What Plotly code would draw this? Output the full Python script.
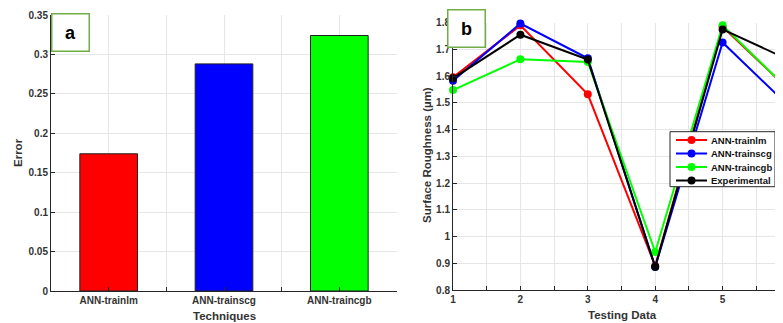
import plotly.graph_objects as go

# ---------------- data ----------------
techniques = ["ANN-trainlm", "ANN-trainscg", "ANN-traincgb"]
errors = [0.174, 0.288, 0.324]
bar_colors = ["#ff0000", "#0000ff", "#00ff00"]

testing_data = [1, 2, 3, 4, 5, 6]
ann_trainlm = [1.596, 1.790, 1.532, 0.890, 1.785, 1.545]
ann_trainscg = [1.583, 1.797, 1.667, 0.886, 1.726, 1.483]
ann_traincgb = [1.548, 1.663, 1.653, 0.942, 1.790, 1.545]
experimental = [1.592, 1.755, 1.662, 0.887, 1.775, 1.659]

series_names = ["ANN-trainlm", "ANN-trainscg", "ANN-traincgb", "Experimental"]
series_values = [ann_trainlm, ann_trainscg, ann_traincgb, experimental]
series_colors = ["#ff0000", "#0000ff", "#00ff00", "#000000"]

# The page body adds an 8px offset, so the figure is sized to fill the
# remaining part of the 783x323 window.
OFF = 8
W, H = 783 - OFF, 323 - OFF
FONT = "Liberation Sans, Arial, sans-serif"
AX = "#262626"
GRID = "#e6e6e6"


def px_x(p):
    """window pixel x -> paper fraction"""
    return (p - OFF) / W


def px_y(p):
    """window pixel y (from top) -> paper fraction"""
    return 1 - (p - OFF) / H


fig = go.Figure()

# ---------------- panel a: bars ----------------
xpos = list(range(1, len(techniques) + 1))
fig.add_trace(go.Bar(
    x=xpos, y=errors, width=0.5,
    marker=dict(color=bar_colors, line=dict(color="#222222", width=1)),
    xaxis="x", yaxis="y", showlegend=False,
))

# ---------------- panel b: lines ----------------
for name, vals, col in zip(series_names, series_values, series_colors):
    fig.add_trace(go.Scatter(
        x=testing_data, y=vals, name=name, mode="lines+markers",
        line=dict(color=col, width=2),
        marker=dict(color=col, size=8, symbol="circle"),
        cliponaxis=False, xaxis="x2", yaxis="y2", showlegend=False,
    ))

tickfont = dict(family=FONT, size=10, color="#333333", weight="bold")

common_axis = dict(
    showline=True, linecolor=AX, linewidth=1, ticks="inside", ticklen=4,
    tickcolor=AX, tickfont=tickfont, showgrid=True, gridcolor=GRID,
    gridwidth=1, zeroline=False, mirror=False, automargin=False,
)

fig.update_layout(
    template="none",
    width=W, height=H,
    margin=dict(l=0, r=0, t=0, b=0, pad=0, autoexpand=False),
    paper_bgcolor="white", plot_bgcolor="white",
    showlegend=False,
    xaxis=dict(
        domain=[px_x(51), px_x(397)], range=[0.5, len(techniques) + 0.5],
        tickmode="array", tickvals=xpos, ticktext=techniques,
        minor=dict(tickmode="array", tickvals=[i + 0.5 for i in xpos[:-1]],
                   showgrid=True, gridcolor=GRID, ticks="inside", ticklen=4,
                   tickcolor=AX),
        anchor="y", **common_axis,
    ),
    yaxis=dict(
        domain=[px_y(291), px_y(15)], range=[0, 0.35], dtick=0.05,
        anchor="x", **common_axis,
    ),
    xaxis2=dict(
        domain=[px_x(453), 1], range=[1, 1 + (783 - 453) / 67.4],
        dtick=1, tick0=1,
        minor=dict(dtick=0.5, showgrid=True, gridcolor=GRID, ticks="inside",
                   ticklen=4, tickcolor=AX),
        anchor="y2", **common_axis,
    ),
    yaxis2=dict(
        domain=[px_y(290), px_y(22.7)], range=[0.8, 1.8], dtick=0.1,
        anchor="x2", **common_axis,
    ),
)

# ---------------- axis titles ----------------
title_font = dict(family=FONT, size=11.5, color="#333333", weight="bold")
annos = [
    dict(text="Error", x=px_x(18), y=px_y(153), textangle=-90),
    dict(text="Techniques", x=px_x(224.5), y=px_y(315.5)),
    dict(text="Surface Roughness (µm)", x=px_x(427), y=px_y(155), textangle=-90),
    dict(text="Testing Data", x=px_x(622), y=px_y(315)),
]
for a in annos:
    fig.add_annotation(xref="paper", yref="paper", showarrow=False,
                       xanchor="center", yanchor="middle", font=title_font, **a)

# ---------------- panel labels ----------------
label_font = dict(family=FONT, size=18, color="#000000", weight="bold")
for txt, cx, cy in [("a", 71, 32.2), ("b", 466.3, 29)]:
    fig.add_annotation(xref="paper", yref="paper", showarrow=False,
                       text=txt, x=px_x(cx), y=px_y(cy),
                       xanchor="center", yanchor="middle",
                       width=36, height=36, borderpad=0,
                       bgcolor="white", bordercolor="#70ad47", borderwidth=1.5,
                       font=label_font)

# ---------------- legend (drawn as a compact MATLAB-style box) ----------------
lg_x0, lg_y0, lg_x1, lg_y1 = 670, 131.7, 775, 186.7
fig.add_shape(type="rect", xref="paper", yref="paper", layer="above",
              x0=px_x(lg_x0), x1=px_x(lg_x1), y0=px_y(lg_y1), y1=px_y(lg_y0),
              fillcolor="white", line=dict(color=AX, width=1))
legend_font = dict(family=FONT, size=9.5, color="#111111", weight="bold")
for i, (name, col) in enumerate(zip(series_names, series_colors)):
    cy = 140 + i * 13.5
    fig.add_shape(type="line", xref="paper", yref="paper", layer="above",
                  x0=px_x(676), x1=px_x(707), y0=px_y(cy), y1=px_y(cy),
                  line=dict(color=col, width=2))
    fig.add_shape(type="circle", xref="paper", yref="paper", layer="above",
                  x0=px_x(691.5 - 4), x1=px_x(691.5 + 4),
                  y0=px_y(cy + 4), y1=px_y(cy - 4),
                  fillcolor=col, line=dict(color=col, width=0))
    fig.add_annotation(xref="paper", yref="paper", showarrow=False,
                       text=name, x=px_x(709), y=px_y(cy),
                       xanchor="left", yanchor="middle", font=legend_font)

fig.write_html("out.html")
